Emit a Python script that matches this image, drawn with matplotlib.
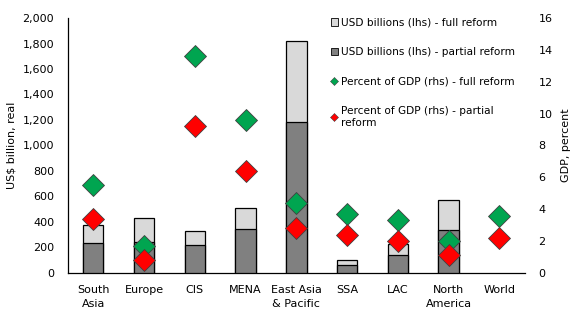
import matplotlib
matplotlib.use("Agg")
import matplotlib.pyplot as plt
from matplotlib.patches import Patch
from matplotlib.lines import Line2D
from matplotlib.ticker import FuncFormatter

categories = ["South\nAsia", "Europe", "CIS", "MENA", "East Asia\n& Pacific",
              "SSA", "LAC", "North\nAmerica", "World"]
usd_full = [375, 430, 330, 510, 1820, 100, 225, 570, None]
usd_partial = [235, 240, 220, 345, 1185, 60, 140, 340, None]
gdp_full = [5.5, 1.7, 13.6, 9.6, 4.4, 3.7, 3.3, 2.0, 3.6]
gdp_partial = [3.4, 0.8, 9.2, 6.4, 2.8, 2.4, 2.0, 1.1, 2.2]

plt.rcParams["font.family"] = ["DejaVu Sans"]
plt.rcParams["font.size"] = 7.5

fig = plt.figure(figsize=(5.76, 3.28), dpi=100)
ax = fig.add_axes([0.118, 0.168, 0.793, 0.777])
ax2 = ax.twinx()

x = list(range(len(categories)))
bx = [i for i, v in zip(x, usd_full) if v is not None]
ax.bar(bx, [v for v in usd_full if v is not None], width=0.4,
       color="#D9D9D9", edgecolor="black", linewidth=0.9, zorder=2)
ax.bar(bx, [v for v in usd_partial if v is not None], width=0.4,
       color="#808080", edgecolor="black", linewidth=0.9, zorder=3)

ax2.plot(x, gdp_full, linestyle="none", marker="D", markersize=11,
         markerfacecolor="#00A550", markeredgecolor="#404040",
         markeredgewidth=0.6, zorder=4)
ax2.plot(x, gdp_partial, linestyle="none", marker="D", markersize=11,
         markerfacecolor="#FF0000", markeredgecolor="#404040",
         markeredgewidth=0.6, zorder=4)

ax.set_xlim(-0.5, len(categories) - 0.5)
ax.set_ylim(0, 2000)
ax.set_yticks(range(0, 2001, 200))
ax.yaxis.set_major_formatter(FuncFormatter(lambda v, p: f"{int(v):,}"))
ax2.set_ylim(0, 16)
ax2.set_yticks(range(0, 17, 2))

ax.set_xticks(x)
ax.set_xticklabels(categories, fontsize=8, linespacing=1.45)
ax.tick_params(axis="x", length=0, pad=9)
ax.tick_params(axis="y", length=0, pad=10, labelsize=8)
ax2.tick_params(axis="y", length=0, pad=10, labelsize=8)

for s in ["top", "right"]:
    ax.spines[s].set_visible(False)
for s in ["top", "right", "left", "bottom"]:
    ax2.spines[s].set_visible(False)
ax.spines["left"].set_linewidth(0.9)
ax.spines["bottom"].set_linewidth(0.9)

ax.set_ylabel("US$ billion, real", fontsize=8, labelpad=4)
ax2.set_ylabel("GDP, percent", fontsize=8, labelpad=6)

ax.set_zorder(ax2.get_zorder() - 1)
ax.patch.set_visible(False)

handles = [
    Patch(facecolor="#D9D9D9", edgecolor="black", linewidth=0.6),
    Patch(facecolor="#808080", edgecolor="black", linewidth=0.6),
    Line2D([], [], linestyle="none", marker="D", markersize=4,
           markerfacecolor="#00A550", markeredgecolor="#404040", markeredgewidth=0.4),
    Line2D([], [], linestyle="none", marker="D", markersize=4,
           markerfacecolor="#FF0000", markeredgecolor="#404040", markeredgewidth=0.4),
]
labels = ["USD billions (lhs) - full reform",
          "USD billions (lhs) - partial reform",
          "Percent of GDP (rhs) - full reform",
          "Percent of GDP (rhs) - partial\nreform"]
fig.legend(handles, labels, loc="upper left", bbox_to_anchor=(0.565, 0.962),
           frameon=False, fontsize=7.6, handlelength=0.7, handleheight=0.7,
           handletextpad=0.3, labelspacing=1.85, borderpad=0)

fig.savefig("out.png", dpi=100)
